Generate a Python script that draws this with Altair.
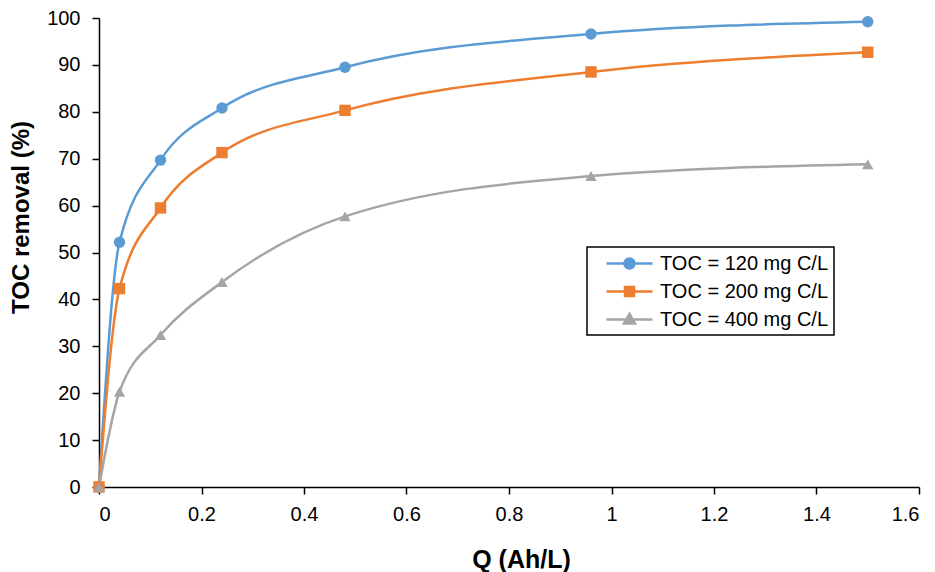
import altair as alt
import pandas as pd

q_values = [0, 0.04, 0.12, 0.24, 0.48, 0.96, 1.5]
series_names = ["TOC = 120 mg C/L", "TOC = 200 mg C/L", "TOC = 400 mg C/L"]
toc_120 = [0, 52.2, 69.7, 80.8, 89.5, 96.6, 99.2]
toc_200 = [0, 42.3, 59.5, 71.3, 80.3, 88.5, 92.7]
toc_400 = [0, 20.3, 32.4, 43.7, 57.7, 66.3, 68.8]
colors = ["#5B9BD5", "#ED7D31", "#A5A5A5"]
shapes = ["circle", "square", "triangle-up"]
# legend symbols: a short line with the marker in the middle
legend_shapes = [
    "M0.3,0L4.9,0M2.1,0A0.5,0.5,0,1,1,3.1,0A0.5,0.5,0,1,1,2.1,0Z",
    "M0.3,0L4.9,0M2.15,-0.45L3.05,-0.45L3.05,0.45L2.15,0.45Z",
    "M0.3,0L4.9,0M2.6,-0.55L3.15,0.4L2.05,0.4Z",
]

rows = []
for name, vals in zip(series_names, [toc_120, toc_200, toc_400]):
    for q, v in zip(q_values, vals):
        rows.append({"Q": q, "TOC": v, "series": name})
df = pd.DataFrame(rows)

font = "Liberation Sans"

x = alt.X("Q:Q", title="Q (Ah/L)",
          scale=alt.Scale(domain=[0, 1.6], nice=False),
          axis=alt.Axis(values=[0, 0.2, 0.4, 0.6, 0.8, 1.0, 1.2, 1.4, 1.6], format="~g",
                        labelPadding=10, titleFontSize=25,
                        titleX=422, titleY=80, titleBaseline="alphabetic"))
y = alt.Y("TOC:Q", title="TOC removal (%)",
          scale=alt.Scale(domain=[0, 100], nice=False),
          axis=alt.Axis(values=list(range(0, 101, 10)), labelPadding=12, titleFontSize=24,
                        titleX=-78, titleY=199, titleBaseline="middle", titleAngle=270))

color_scale = alt.Scale(domain=series_names, range=colors)
legend = alt.Legend(title=None, orient="none", legendX=488, legendY=229,
                    strokeColor="black", fillColor="white", padding=5,
                    labelFontSize=20, labelFont=font, labelColor="black", labelLimit=400,
                    symbolSize=400, symbolStrokeWidth=2.5, rowPadding=6, labelOffset=45)

lines = alt.Chart(df).mark_line(interpolate="monotone", strokeWidth=2.5).encode(
    x=x, y=y, color=alt.Color("series:N", scale=color_scale, legend=None))

points = alt.Chart(df).mark_point(filled=True, opacity=1, size=130).encode(
    x=x, y=y,
    color=alt.Color("series:N", scale=color_scale, legend=None),
    shape=alt.Shape("series:N", scale=alt.Scale(domain=series_names, range=shapes), legend=None))

legend_layer = alt.Chart(df).transform_filter("false").mark_point(
    filled=True, opacity=1, size=400, strokeWidth=2.5).encode(
    x=x, y=y,
    fill=alt.Fill("series:N", scale=color_scale, legend=legend),
    stroke=alt.Stroke("series:N", scale=color_scale, legend=legend),
    shape=alt.Shape("series:N", scale=alt.Scale(domain=series_names, range=legend_shapes), legend=legend))

chart = alt.layer(lines, points, legend_layer).resolve_scale(
    shape="independent", fill="independent", stroke="independent"
).properties(
    width=820, height=469,
    autosize=alt.AutoSizeParams(type="none"),
    padding={"left": 91, "top": 10, "right": 8, "bottom": 95},
).configure_view(stroke=None).configure_axis(
    grid=False, domainColor="black", domainWidth=1.5, tickColor="black", tickWidth=1.5,
    tickSize=7, labelFont=font, labelFontSize=20, labelColor="black",
    titleFont=font, titleFontWeight="bold", titleColor="black",
).configure_legend(strokeWidth=1.5)

chart.save("out.html", embed_options={"renderer": "svg", "actions": False})
